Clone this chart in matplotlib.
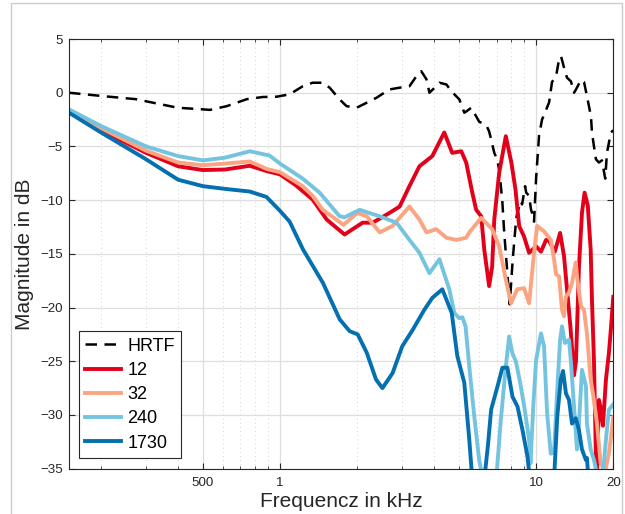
import matplotlib
matplotlib.use("Agg")
import matplotlib.pyplot as plt
from matplotlib.patches import Rectangle
from matplotlib.ticker import FixedLocator, NullFormatter

plt.rcParams['font.family'] = ['Liberation Sans', 'DejaVu Sans']

# ---------------- data (frequency in kHz, magnitude in dB) ----------------
hrtf_f = [0.150, 0.200, 0.273, 0.399, 0.50, 0.532, 0.620, 0.742, 0.856, 0.971,
          1.09, 1.226, 1.341, 1.467, 1.562, 1.708, 1.818, 1.99, 2.18, 2.38,
          2.67, 2.93, 3.20, 3.41, 3.56, 3.73, 3.83, 4.07, 4.19, 4.46,
          4.66, 5.01, 5.24, 5.33, 5.58, 5.83, 5.99, 6.38, 6.55, 6.67,
          6.86, 7.04, 7.17, 7.37, 7.50, 7.70, 7.88, 8.10, 8.35, 8.43,
          8.70, 8.81, 9.05, 9.14, 9.38, 9.55, 9.64, 9.81, 9.99, 10.26,
          10.54, 10.93, 11.23, 11.53, 11.95, 12.28, 12.50, 12.84, 13.19, 13.67,
          14.05, 14.30, 14.96, 15.37, 15.78, 16.36, 16.51, 16.81, 17.11, 17.58,
          18.06, 18.60, 18.89, 19.57, 20.0]
hrtf_db = [0.0, -0.3, -0.6, -1.4, -1.55, -1.6, -1.25, -0.6, -0.4, -0.37,
           -0.15, 0.6, 0.93, 0.93, 0.47, -0.62, -1.25, -1.4, -0.93, -0.47,
           0.3, 0.47, 0.6, 1.55, 2.0, 1.24, 0.0, 0.6, 0.93, 0.77,
           0.15, -0.62, -1.86, -1.75, -1.4, -2.2, -2.7, -3.0, -3.6, -4.35,
           -5.6, -6.2, -7.2, -10.0, -13.0, -16.5, -19.7, -15.5, -11.8, -11.2,
           -10.1, -10.4, -8.7, -9.3, -9.6, -10.9, -11.2, -12.0, -8.0, -4.0,
           -2.5, -1.6, -0.9, 1.0, 1.5, 3.1, 3.4, 2.35, 1.4, 1.05,
           0.0, 0.3, 1.2, 1.0, -0.3, -2.2, -3.7, -5.0, -6.2, -6.5,
           -6.3, -8.0, -5.6, -3.7, -3.5]

f12 = [0.150, 0.200, 0.300, 0.400, 0.500, 0.609, 0.762, 0.888, 1.0, 1.15,
       1.341, 1.52, 1.786, 2.10, 2.30, 2.67, 2.93, 3.20, 3.50, 3.93,
       4.377, 4.70, 5.10, 5.33, 5.63, 5.83, 6.10, 6.27, 6.55, 6.73,
       6.86, 7.17, 7.61, 8.0, 8.30, 8.58, 8.97, 9.38, 9.99, 10.44,
       10.93, 11.23, 11.82, 12.40, 12.84, 13.19, 13.60, 14.05, 14.30, 14.69,
       15.09, 15.45, 15.90, 16.32, 16.51, 16.81, 17.11, 17.27, 17.58, 17.90,
       18.22, 18.72, 19.23, 19.57, 20.0]
db12 = [-1.8, -3.5, -5.6, -6.85, -7.2, -7.15, -6.8, -7.3, -7.6, -8.6,
        -9.95, -11.8, -13.2, -12.1, -12.1, -11.2, -10.6, -8.7, -6.85, -5.9,
        -3.7, -5.6, -5.45, -6.5, -9.3, -10.9, -11.5, -14.6, -18.0, -16.2,
        -11.8, -7.45, -4.05, -6.5, -9.0, -12.4, -13.4, -14.9, -14.3, -14.8,
        -13.7, -13.8, -14.8, -13.05, -15.2, -18.3, -21.75, -26.3, -25.0, -16.2,
        -11.2, -9.3, -10.5, -14.6, -19.3, -25.0, -34.0, -35.5, -28.6, -29.5,
        -31.0, -26.7, -24.2, -22.0, -19.0]

f32 = [0.150, 0.200, 0.300, 0.400, 0.500, 0.609, 0.762, 0.888, 1.0, 1.226,
       1.341, 1.467, 1.77, 2.00, 2.18, 2.45, 2.75, 3.20, 3.50, 3.73,
       4.07, 4.46, 4.88, 5.33, 5.48, 6.10, 6.73, 7.17, 7.61, 7.98,
       8.43, 8.97, 9.38, 9.81, 10.08, 10.73, 11.40, 11.74, 11.95, 12.28,
       12.61, 12.84, 13.05, 13.43, 13.80, 14.27, 14.43, 14.96, 15.37, 15.78,
       16.32, 16.81, 17.27, 17.85, 18.60, 19.23, 20.0]
db32 = [-1.75, -3.3, -5.4, -6.5, -6.75, -6.6, -6.4, -7.1, -7.4, -8.7,
        -9.6, -10.9, -12.3, -11.2, -11.5, -13.0, -12.4, -10.6, -11.8, -13.0,
        -12.7, -13.5, -13.7, -13.5, -13.0, -11.65, -12.7, -14.3, -17.4, -19.6,
        -18.3, -18.2, -19.6, -14.9, -12.4, -12.9, -13.7, -15.5, -16.9, -17.1,
        -20.2, -20.8, -19.0, -18.6, -17.7, -15.8, -17.1, -19.9, -20.2, -22.4,
        -26.7, -28.6, -30.8, -34.5, -35.2, -33.6, -30.2]

f240 = [0.150, 0.200, 0.300, 0.400, 0.500, 0.609, 0.762, 0.91, 1.0, 1.226,
        1.427, 1.708, 1.786, 2.044, 2.445, 2.85, 3.20, 3.50, 3.83, 4.19,
        4.58, 4.79, 5.01, 5.15, 5.30, 5.48, 5.73, 5.99, 6.20, 6.98,
        7.28, 7.61, 7.84, 8.06, 8.33, 8.66, 9.02, 9.38, 9.50, 9.75,
        9.99, 10.44, 10.73, 11.03, 11.40, 11.74, 12.06, 12.40, 12.61, 12.95,
        13.43, 13.67, 14.05, 14.43, 14.69, 15.09, 15.64, 15.78, 16.32, 16.81,
        17.27, 17.90, 18.38, 18.72, 19.23, 20.0]
db240 = [-1.55, -3.1, -5.0, -5.9, -6.3, -6.05, -5.45, -5.85, -6.6, -8.0,
         -9.3, -11.5, -11.6, -10.9, -11.5, -12.1, -13.7, -14.9, -16.8, -15.5,
         -18.3, -20.5, -21.0, -20.9, -21.75, -25.5, -30.1, -34.2, -36.0, -36.0,
         -30.4, -25.5, -22.7, -24.2, -25.0, -27.0, -29.5, -32.3, -34.5, -29.0,
         -24.9, -22.4, -23.6, -29.8, -33.6, -33.5, -28.0, -23.0, -21.75, -23.3,
         -23.0, -25.1, -29.2, -33.2, -30.8, -25.8, -27.3, -30.8, -33.2, -34.2,
         -35.5, -36.0, -34.5, -32.3, -29.5, -29.0]

f1730 = [0.150, 0.200, 0.300, 0.400, 0.500, 0.609, 0.762, 0.885, 1.0, 1.09,
         1.23, 1.47, 1.71, 1.87, 2.01, 2.18, 2.37, 2.51, 2.75, 3.00,
         3.29, 3.66, 3.93, 4.30, 4.68, 4.92, 5.24, 5.48, 5.63, 6.27,
         6.47, 6.67, 7.07, 7.38, 7.72, 8.08, 8.45, 8.84, 9.25, 9.45,
         11.74, 12.09, 12.47, 12.73, 13.07, 13.43, 13.80, 14.27, 14.69, 15.09,
         15.64, 15.78, 16.0, 20.0]
db1730 = [-1.86, -3.7, -6.2, -8.1, -8.7, -8.95, -9.2, -9.7, -11.0, -12.0,
          -14.6, -17.7, -21.1, -22.2, -22.5, -24.2, -26.7, -27.5, -26.1, -23.6,
          -22.1, -20.2, -19.1, -18.3, -20.5, -24.5, -27.0, -32.3, -36.0, -36.0,
          -33.0, -29.5, -27.3, -25.6, -25.6, -28.3, -29.2, -31.4, -33.9, -36.0,
          -36.0, -30.1, -26.7, -25.9, -28.0, -28.6, -30.8, -30.3, -31.4, -33.2,
          -34.2, -34.0, -36.0, -36.0]

labels = ['HRTF', '12', '32', '240', '1730']
xtick_vals = [0.5, 1, 10, 20]
xtick_labels = ['500', '1', '10', '20']
ytick_vals = [5, 0, -5, -10, -15, -20, -25, -30, -35]

# ---------------- figure ----------------
fig = plt.figure(figsize=(6.25, 5.14), dpi=100)
fig.patches.append(Rectangle((11 / 625, -0.02), (621.7 - 11) / 625, 1.02 - 3 / 514,
                             transform=fig.transFigure, fill=False,
                             edgecolor='#cccccc', linewidth=1.0, zorder=0))
ax = fig.add_axes([69 / 625, 1 - 468.7 / 514, (613.3 - 69) / 625, (468.7 - 39) / 514])

ax.plot(hrtf_f, hrtf_db, color='black', lw=1.8, dashes=(4.6, 3.0), label=labels[0])
ax.plot(f12, db12, color='#e3001b', lw=2.8, label=labels[1])
ax.plot(f32, db32, color='#fba482', lw=2.8, label=labels[2])
ax.plot(f240, db240, color='#74c4e0', lw=2.8, label=labels[3])
ax.plot(f1730, db1730, color='#0570b0', lw=2.8, label=labels[4])

ax.set_xscale('log')
ax.set_xlim(0.15, 20)
ax.set_ylim(-35, 5)
ax.xaxis.set_major_locator(FixedLocator(xtick_vals))
ax.set_xticklabels(xtick_labels)
minor = [0.2, 0.3, 0.4, 0.6, 0.7, 0.8, 0.9, 2, 3, 4, 5, 6, 7, 8, 9]
ax.xaxis.set_minor_locator(FixedLocator(minor))
ax.xaxis.set_minor_formatter(NullFormatter())
ax.set_yticks(ytick_vals)

ax.grid(True, which='major', color='#dedede', lw=0.9, ls='-')
ax.grid(True, which='minor', axis='x', color='#c4c4c4', lw=0.6, ls=(0, (1, 4)))
ax.set_axisbelow(True)

for s in ax.spines.values():
    s.set_color('#262626')
    s.set_linewidth(0.8)
ax.tick_params(which='both', direction='in', top=True, right=True, colors='#262626',
               labelsize=9.6)
ax.tick_params(which='major', length=4, width=0.8)
ax.tick_params(which='minor', length=2.2, width=0.6)
ax.tick_params(axis='x', pad=6)
ax.tick_params(axis='y', pad=4.5)

ax.set_xlabel('Frequencz in kHz', fontsize=15, color='#262626', labelpad=2)
ax.set_ylabel('Magnitude in dB', fontsize=15, color='#262626', labelpad=4)

leg = ax.legend(loc='lower left', bbox_to_anchor=(0.018, 0.025), borderaxespad=0,
                fontsize=13, frameon=True, fancybox=False, edgecolor='#262626',
                framealpha=1, handlelength=2.0, handletextpad=0.35,
                labelspacing=0.40, borderpad=0.35)
leg.get_frame().set_linewidth(0.8)

fig.savefig('out.png', dpi=100)
